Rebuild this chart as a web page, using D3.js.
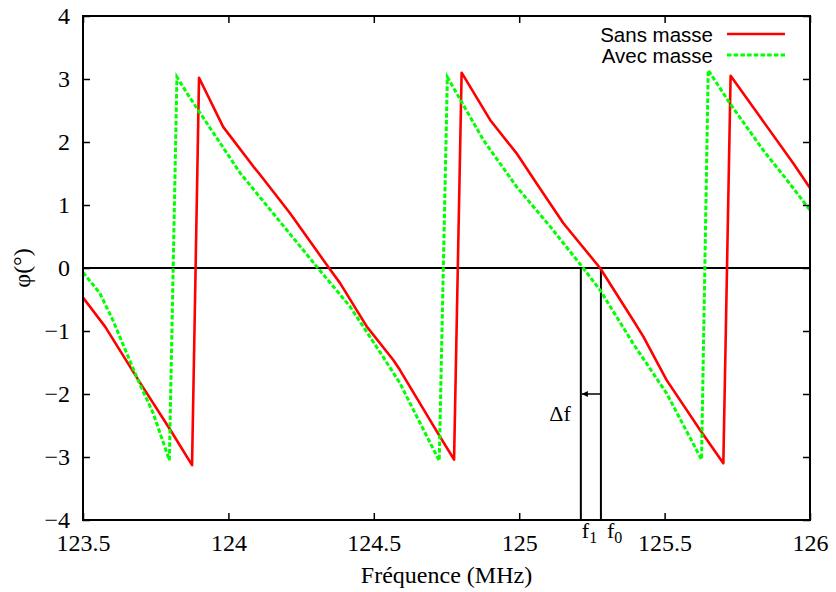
<!DOCTYPE html>
<html><head><meta charset="utf-8">
<script src="https://cdn.jsdelivr.net/npm/d3@7"></script>
<style>
html,body{margin:0;padding:0;background:#fff;}
svg{display:block;}
.serif{font-family:"Liberation Serif","Times New Roman","DejaVu Serif",serif;}
.sans{font-family:"Liberation Sans",Arial,"DejaVu Sans",sans-serif;}
</style></head>
<body>
<svg id="chart" width="836" height="592"></svg>
<script>
// ---- data ----
const xTicks = [123.5, 124, 124.5, 125, 125.5, 126];
const yTicks = [-4, -3, -2, -1, 0, 1, 2, 3, 4];
const seriesNames = ["Sans masse", "Avec masse"];
const sansMasseFreq = [123.5, 123.576, 123.696, 123.799, 123.875, 123.899, 123.982, 124.086, 124.109, 124.212, 124.346, 124.384, 124.476, 124.567, 124.590, 124.728, 124.776, 124.802, 124.900, 124.991, 125.060, 125.152, 125.278, 125.392, 125.427, 125.507, 125.622, 125.702, 125.727, 125.828, 125.943, 126.0];
const sansMassePhase = [-0.47, -0.93, -1.82, -2.56, -3.13, 3.02, 2.24, 1.61, 1.48, 0.87, 0.0, -0.24, -0.93, -1.46, -1.62, -2.68, -3.04, 3.10, 2.35, 1.82, 1.34, 0.71, 0.0, -0.83, -1.09, -1.78, -2.57, -3.10, 3.05, 2.40, 1.66, 1.27];
const avecMasseFreq = [123.5, 123.558, 123.603, 123.650, 123.694, 123.741, 123.797, 123.823, 123.868, 124.040, 124.304, 124.418, 124.532, 124.590, 124.659, 124.725, 124.753, 124.877, 124.991, 125.106, 125.220, 125.278, 125.392, 125.507, 125.627, 125.650, 125.725, 125.839, 125.920, 126.0];
const avecMassePhase = [-0.07, -0.40, -0.83, -1.35, -1.83, -2.30, -3.05, 3.03, 2.70, 1.51, 0.02, -0.61, -1.41, -1.83, -2.46, -3.06, 3.03, 2.03, 1.29, 0.66, 0.0, -0.35, -1.20, -1.99, -3.04, 3.14, 2.61, 1.87, 1.40, 0.92];
const f0 = 125.281, f1 = 125.212, arrowPhase = -2.0, deltaLabelPhase = -2.3;

// ---- layout ----
const svg = d3.select("#chart");
const L = 83, R = 810, T = 16, B = 520;
const x = d3.scaleLinear().domain([123.5, 126]).range([L, R]);
const y = d3.scaleLinear().domain([-4, 4]).range([B, T]);
const fmt = v => (v < 0 ? "\u2212" + Math.abs(v) : String(v));

// zero line
svg.append("line").attr("x1", L).attr("x2", R).attr("y1", y(0)).attr("y2", y(0))
  .attr("stroke", "#000").attr("stroke-width", 2);

// f lines
[f1, f0].forEach(f => {
  svg.append("line").attr("x1", x(f)).attr("x2", x(f)).attr("y1", y(0)).attr("y2", B)
    .attr("stroke", "#000").attr("stroke-width", 2);
});
// arrow f0 -> f1
svg.append("defs").append("marker").attr("id", "ah").attr("viewBox", "0 0 10 10")
  .attr("refX", 10).attr("refY", 5).attr("markerWidth", 9).attr("markerHeight", 6)
  .attr("markerUnits", "userSpaceOnUse").attr("orient", "auto")
  .append("path").attr("d", "M0,0 L10,5 L0,10 z").attr("fill", "#000");
svg.append("line").attr("x1", x(f0)).attr("x2", x(f1) + 1).attr("y1", y(arrowPhase)).attr("y2", y(arrowPhase))
  .attr("stroke", "#000").attr("stroke-width", 1.5).attr("marker-end", "url(#ah)");
svg.append("text").attr("class", "serif").attr("x", x(f1) - 10).attr("y", y(deltaLabelPhase) + 8)
  .attr("text-anchor", "end").attr("font-size", 22).text("\u0394f");

// curves
const line = d3.line().x(d => x(d[0])).y(d => y(d[1]));
const red = sansMasseFreq.map((f, i) => [f, sansMassePhase[i]]);
const green = avecMasseFreq.map((f, i) => [f, avecMassePhase[i]]);
svg.append("clipPath").attr("id", "clip").append("rect")
  .attr("x", L).attr("y", T).attr("width", R - L).attr("height", B - T);
svg.append("path").datum(red).attr("d", line).attr("fill", "none")
  .attr("stroke", "#ff0000").attr("stroke-width", 2.6).attr("stroke-linejoin", "round")
  .attr("clip-path", "url(#clip)");
svg.append("path").datum(green).attr("d", line).attr("fill", "none")
  .attr("stroke", "#00ff00").attr("stroke-width", 3).attr("stroke-dasharray", "4.5,2.2")
  .attr("clip-path", "url(#clip)");

// frame
svg.append("rect").attr("x", L).attr("y", T).attr("width", R - L).attr("height", B - T)
  .attr("fill", "none").attr("stroke", "#000").attr("stroke-width", 2);

// axes (inward ticks, mirrored)
const tickLen = 7;
const gx = svg.append("g").attr("transform", `translate(0,${B})`)
  .call(d3.axisBottom(x).tickValues(xTicks).tickSizeInner(-tickLen).tickSizeOuter(0).tickPadding(14)
    .tickFormat(d => String(d)));
const gxTop = svg.append("g").attr("transform", `translate(0,${T})`)
  .call(d3.axisTop(x).tickValues(xTicks).tickSizeInner(-tickLen).tickSizeOuter(0).tickFormat(""));
const gy = svg.append("g").attr("transform", `translate(${L},0)`)
  .call(d3.axisLeft(y).tickValues(yTicks).tickSizeInner(-tickLen).tickSizeOuter(0).tickPadding(13)
    .tickFormat(fmt));
const gyR = svg.append("g").attr("transform", `translate(${R},0)`)
  .call(d3.axisRight(y).tickValues(yTicks).tickSizeInner(-tickLen).tickSizeOuter(0).tickFormat(""));
[gx, gxTop, gy, gyR].forEach(g => {
  g.attr("font-family", null).attr("font-size", null);
  g.select(".domain").remove();
  g.selectAll(".tick line").attr("stroke", "#000").attr("stroke-width", 1.5);
  g.selectAll("text").attr("class", "serif").attr("font-size", 24).attr("fill", "#000");
});
gx.selectAll("text").attr("dy", "0.71em");

// f labels
[[f1, "1"], [f0, "0"]].forEach(([f, s], i) => {
  const t = svg.append("text").attr("class", "serif").attr("x", x(f) + (i === 0 ? 1 : 6)).attr("y", 538)
    .attr("font-size", 22);
  t.append("tspan").text("f");
  t.append("tspan").attr("dy", 5).attr("font-size", 16).text(s);
});

// axis titles
svg.append("text").attr("class", "serif").attr("x", (L + R) / 2).attr("y", 583).attr("text-anchor", "middle")
  .attr("font-size", 24).text("Fréquence (MHz)");
svg.append("text").attr("class", "serif").attr("transform", `translate(30,${y(0)}) rotate(-90)`).attr("text-anchor", "middle")
  .attr("font-size", 24).text("\u03c6(\u00b0)");

// legend
const legColors = ["#ff0000", "#00ff00"];
const legDash = [null, "4.5,2.2"];
const legWidth = [2.6, 3];
seriesNames.forEach((n, i) => {
  const yy = 34 + i * 21;
  svg.append("text").attr("class", "sans").attr("x", 713).attr("y", yy + 7.5).attr("text-anchor", "end")
    .attr("font-size", 20.5).text(n);
  svg.append("line").attr("x1", 727).attr("x2", 785).attr("y1", yy).attr("y2", yy)
    .attr("stroke", legColors[i]).attr("stroke-width", legWidth[i]).attr("stroke-dasharray", legDash[i]);
});
</script>
</body></html>
